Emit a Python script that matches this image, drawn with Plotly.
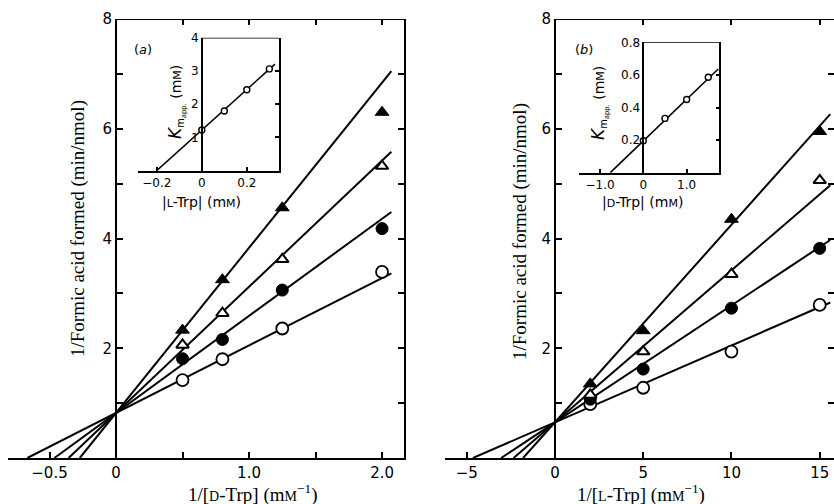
import plotly.graph_objects as go

W, H = 834, 504

# ---- panel (a): 1/v against 1/[D-Trp], one series per L-Trp level ----
a_x = [0.5, 0.8, 1.25, 2.0]
a_open_circle = [1.42, 1.80, 2.36, 3.39]
a_filled_circle = [1.81, 2.16, 3.06, 4.18]
a_open_tri = [2.06, 2.64, 3.62, 5.32]
a_filled_tri = [2.33, 3.25, 4.56, 6.30]
a_intercept = 0.82
a_slopes = [1.23, 1.77, 2.30, 3.01]   # open circle, filled circle, open tri, filled tri

# inset (a): Km app against [L-Trp]
ia_x = [0, 0.1, 0.2, 0.3]
ia_y = [1.22, 1.79, 2.43, 3.06]
ia_intercept = 1.22
ia_slope = 6.1

# ---- panel (b): 1/v against 1/[L-Trp], one series per D-Trp level ----
b_x = [2, 5, 10, 15]
b_open_circle = [0.98, 1.28, 1.94, 2.79]
b_filled_circle = [1.07, 1.62, 2.73, 3.82]
b_open_tri = [1.15, 1.94, 3.35, 5.06]
b_filled_tri = [1.35, 2.32, 4.35, 5.95]
b_intercept = 0.65
b_slopes = [0.14, 0.213, 0.277, 0.36]

# inset (b): Km app against [D-Trp]
ib_x = [0, 0.5, 1.0, 1.5]
ib_y = [0.196, 0.333, 0.449, 0.586]
ib_intercept = 0.195
ib_slope = 0.255

a_xticks = [-0.5, 0, 1.0, 2.0]
a_xtext = ["\u22120.5", "0", "1.0", "2.0"]
a_xminor = [0.5, 1.5]
b_xticks = [-5, 0, 5, 10, 15]
b_xtext = ["\u22125", "0", "5", "10", "15"]
y_ticks = [2, 4, 6, 8]
y_minor = [1, 3, 5, 7]
ia_xticks = [-0.2, 0, 0.2]
ia_xtext = ["\u22120.2", "0", "0.2"]
ia_yticks = [1, 2, 3, 4]
ib_xticks = [-1.0, 0, 1.0]
ib_xtext = ["\u22121.0", "0", "1.0"]
ib_yticks = [0.2, 0.4, 0.6, 0.8]
ib_ytext = ["0.2", "0.4", "0.6", "0.8"]


def px_x(p):
    return p / W


def px_y(p):
    return 1 - p / H


def fit_line(intercept, slope, x_end):
    return [-intercept / slope, x_end], [0, intercept + slope * x_end]


SANS = "DejaVu Sans"
SERIF = "Liberation Serif"
SC = "<span style='font-size:{}px'>{}</span>"

styles = [
    dict(symbol="circle", size=12, color="white", line=dict(color="black", width=1.8)),
    dict(symbol="circle", size=12, color="black", line=dict(color="black", width=1)),
    dict(symbol="triangle-up", size=11, color="white", line=dict(color="black", width=2)),
    dict(symbol="triangle-up", size=12, color="black", line=dict(color="black", width=1)),
]

fig = go.Figure()


def add_panel(xs, series, intercept, slopes, x_end, xa, ya):
    for s in slopes:
        lx, ly = fit_line(intercept, s, x_end)
        fig.add_trace(go.Scatter(x=lx, y=ly, mode="lines", line=dict(color="black", width=2),
                                 xaxis=xa, yaxis=ya, showlegend=False, hoverinfo="skip"))
    for ys, st in zip(series, styles):
        fig.add_trace(go.Scatter(x=xs, y=ys, mode="markers", marker=st,
                                 xaxis=xa, yaxis=ya, showlegend=False))


add_panel(a_x, [a_open_circle, a_filled_circle, a_open_tri, a_filled_tri],
          a_intercept, a_slopes, 2.07, "x", "y")
add_panel(b_x, [b_open_circle, b_filled_circle, b_open_tri, b_filled_tri],
          b_intercept, b_slopes, 15.6, "x4", "y4")


def add_inset(xs, ys, intercept, slope, x_end, xa, ya):
    lx, ly = fit_line(intercept, slope, x_end)
    fig.add_trace(go.Scatter(x=lx, y=ly, mode="lines", line=dict(color="black", width=1.6),
                             xaxis=xa, yaxis=ya, showlegend=False, hoverinfo="skip"))
    fig.add_trace(go.Scatter(x=xs, y=ys, mode="markers",
                             marker=dict(symbol="circle", size=6, color="white",
                                         line=dict(color="black", width=1.4)),
                             xaxis=xa, yaxis=ya, showlegend=False))


add_inset(ia_x, ia_y, ia_intercept, ia_slope, 0.325, "x3", "y3")
add_inset(ib_x, ib_y, ib_intercept, ib_slope, 1.73, "x6", "y6")

# empty traces so the overlay (tick-only) axes get drawn
for xa, ya in [("x2", "y"), ("x", "y2"), ("x5", "y4"), ("x4", "y5"), ("x3", "y7"), ("x6", "y8")]:
    fig.add_trace(go.Scatter(x=[None], y=[None], xaxis=xa, yaxis=ya, showlegend=False,
                             hoverinfo="skip"))

a_dom = [px_x(8), px_x(404)]
a_rng = [-0.812, 2.165]
b_dom = [px_x(445), px_x(834)]
b_rng = [-6.23, 15.81]
y_dom = [px_y(458), px_y(19)]
ia_dom = [px_x(137.7), px_x(279)]
ia_rng = [-0.285, 0.343]
ia_ydom = [px_y(170.5), px_y(37.7)]
ib_dom = [px_x(579.3), px_x(719.3)]
ib_rng = [-1.48, 1.755]
ib_ydom = [px_y(172.7), px_y(42.3)]


def zero_pos(dom, rng):
    return dom[0] + (0 - rng[0]) / (rng[1] - rng[0]) * (dom[1] - dom[0])


tickfont = dict(family=SANS, size=15, color="black")
small_font = dict(family=SANS, size=12, color="black")
main_minor = dict(ticks="inside", ticklen=6, tickwidth=2, tickcolor="black", showgrid=False)
main_ax = dict(showgrid=False, zeroline=False, showline=True, linecolor="black", linewidth=2,
               ticks="inside", ticklen=6, tickwidth=2, tickcolor="black", tickfont=tickfont,
               automargin=False)
ins_ax = dict(showgrid=False, zeroline=False, showline=True, linecolor="black", linewidth=1.5,
              ticks="inside", ticklen=4, tickwidth=1.5, tickcolor="black", tickfont=small_font,
              automargin=False)
tick_only = dict(showgrid=False, zeroline=False, showticklabels=False, ticks="inside",
                 tickcolor="black", automargin=False)

fig.update_layout(
    width=W, height=H,
    margin=dict(l=0, r=0, t=0, b=0, autoexpand=False),
    paper_bgcolor="white", plot_bgcolor="rgba(0,0,0,0)",
    xaxis=dict(main_ax, domain=a_dom, range=a_rng, anchor="y",
               tickvals=a_xticks, ticktext=a_xtext, minor=dict(main_minor, tickvals=a_xminor)),
    yaxis=dict(main_ax, domain=y_dom, range=[0, 8], anchor="free",
               position=zero_pos(a_dom, a_rng), tickvals=y_ticks,
               minor=dict(main_minor, tickvals=y_minor)),
    xaxis2=dict(tick_only, overlaying="x", side="top", anchor="y", range=a_rng,
                tickvals=[0.5, 1.0, 1.5, 2.0], ticklen=6, tickwidth=2, showline=False),
    yaxis2=dict(tick_only, overlaying="y", side="right", anchor="x", range=[0, 8],
                tickvals=[1, 2, 3, 4, 5, 6, 7], ticklen=6, tickwidth=2, showline=True,
                linecolor="black", linewidth=2),
    xaxis3=dict(ins_ax, domain=ia_dom, range=ia_rng, anchor="y3",
                tickvals=ia_xticks, ticktext=ia_xtext),
    yaxis3=dict(ins_ax, domain=ia_ydom, range=[0, 4], anchor="free", ticks="",
                position=zero_pos(ia_dom, ia_rng), tickvals=ia_yticks),
    yaxis7=dict(tick_only, overlaying="y3", side="right", anchor="x3", range=[0, 4],
                tickvals=ia_yticks[:-1], ticklen=4, tickwidth=1.5, showline=True,
                linecolor="black", linewidth=1.5),
    xaxis4=dict(main_ax, domain=b_dom, range=b_rng, anchor="y4",
                tickvals=b_xticks, ticktext=b_xtext),
    yaxis4=dict(main_ax, domain=y_dom, range=[0, 8], anchor="free",
                position=zero_pos(b_dom, b_rng), tickvals=y_ticks,
                minor=dict(main_minor, tickvals=y_minor)),
    xaxis5=dict(tick_only, overlaying="x4", side="top", anchor="y4", range=b_rng,
                tickvals=[5, 10, 15], ticklen=6, tickwidth=2, showline=False),
    yaxis5=dict(tick_only, overlaying="y4", side="right", anchor="x4", range=[0, 8],
                tickvals=[1, 2, 3, 4, 5, 6, 7], ticklen=6, tickwidth=2, showline=False),
    xaxis6=dict(ins_ax, domain=ib_dom, range=ib_rng, anchor="y6",
                tickvals=ib_xticks, ticktext=ib_xtext),
    yaxis6=dict(ins_ax, domain=ib_ydom, range=[0, 0.8], anchor="free", ticks="",
                position=zero_pos(ib_dom, ib_rng), tickvals=ib_yticks, ticktext=ib_ytext),
    yaxis8=dict(tick_only, overlaying="y6", side="right", anchor="x6", range=[0, 0.8],
                tickvals=ib_yticks[:-1], ticklen=4, tickwidth=1.5, showline=True,
                linecolor="black", linewidth=1.5),
)

# top frame lines start at x = 0
for xr, yr, rng in [("x", "y", a_rng), ("x4", "y4", b_rng)]:
    fig.add_shape(type="line", xref=xr, yref=yr, x0=0, x1=rng[1], y0=8, y1=8,
                  line=dict(color="black", width=2))
fig.add_shape(type="line", xref="x3", yref="y3", x0=0, x1=ia_rng[1], y0=4, y1=4,
              line=dict(color="black", width=1.5))
fig.add_shape(type="line", xref="x6", yref="y6", x0=0, x1=ib_rng[1], y0=0.8, y1=0.8,
              line=dict(color="black", width=1.5))

ytitle = "1/Formic acid formed (min/nmol)"
km = ("<i><span style='font-size:17px'>K</span></i><sub>m<sub>app.</sub></sub> (m"
      + SC.format(11, "M") + ")")
notes = [
    (78, 229, ytitle, SERIF, 19, -90),
    (520, 232, ytitle, SERIF, 19, -90),
    (252, 493, "1/[" + SC.format(14, "D") + "-Trp] (m" + SC.format(14, "M") + "<sup>\u22121</sup>)",
     SERIF, 19, 0),
    (641, 493, "1/[" + SC.format(14, "L") + "-Trp] (m" + SC.format(14, "M") + "<sup>\u22121</sup>)",
     SERIF, 19, 0),
    (143, 50, "(<i>a</i>)", SANS, 13, 0),
    (584, 50, "(<i>b</i>)", SANS, 13, 0),
    (201, 202, "|" + SC.format(11, "L") + "-Trp| (m" + SC.format(11, "M") + ")", SANS, 14, 0),
    (642, 202, "|" + SC.format(11, "D") + "-Trp| (m" + SC.format(11, "M") + ")", SANS, 14, 0),
    (177, 102, km, SANS, 14, -90),
    (600, 103, km, SANS, 14, -90),
]
for x, y, text, fam, size, ang in notes:
    fig.add_annotation(x=px_x(x), y=px_y(y), xref="paper", yref="paper", text=text,
                       showarrow=False, textangle=ang, xanchor="center", yanchor="middle",
                       font=dict(family=fam, size=size, color="black"))

# drop the default 8px page margin so the figure sits at the window's corner
fig.write_html("out.html", config={"displayModeBar": False},
               post_script="document.body.style.margin='0';")
